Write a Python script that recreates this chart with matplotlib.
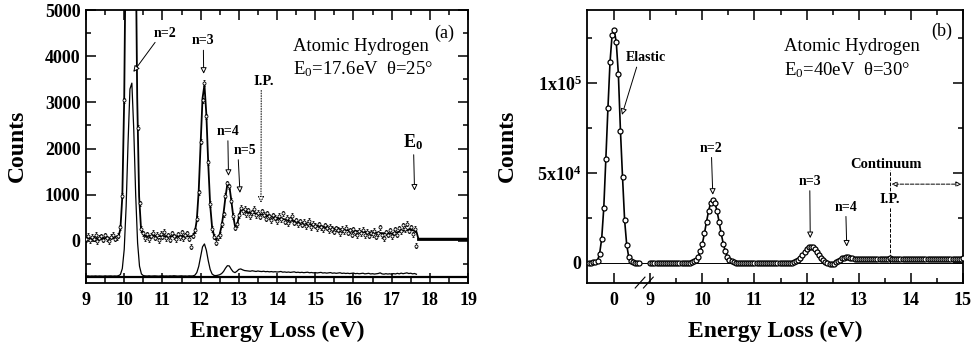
import numpy as np
import matplotlib
matplotlib.use("Agg")
import matplotlib.pyplot as plt
from matplotlib.ticker import MultipleLocator, FixedLocator

plt.rcParams['font.family'] = ['Liberation Serif', 'DejaVu Serif']
plt.rcParams['mathtext.fontset'] = 'custom'
plt.rcParams['mathtext.rm'] = 'Liberation Serif'
plt.rcParams['mathtext.it'] = 'Liberation Serif:italic'
plt.rcParams['mathtext.bf'] = 'Liberation Serif:bold'

# ---------------- panel (a): E0 = 17.6 eV ----------------
# measured counts (x5 trace), 0.05 eV steps from 9.00 eV
a_step = 0.05
a_counts = [
    40, 110, 20, 90, 50, 130, -10, 70, 100, 30,
    120, 60, 0, 90, 140, 50, 80, 110, 300, 980,
    3050, 7400, 13300, 17500, 17000, 12100, 6300, 2450, 820, 260,
    170, 60, 150, 40, 110, 180, 70, 130, 20, 160,
    90, 200, 60, 120, 30, 170, 100, 40, 150, 80,
    190, 60, 120, 170, 50, -120, 110, 230, 480, 1050,
    2150, 3050, 3420, 2700, 1700, 800, 260, 90, -40, 80,
    130, 360, 580, 980, 1250, 1180, 870, 540, 290, 360,
    560, 720, 640, 700, 580, 660, 540, 620, 700, 560,
    610, 520, 640, 570, 480, 600, 530, 450, 560, 500,
    430, 540, 470, 600, 420, 500, 380, 470, 540, 400,
    450, 360, 430, 350, 410, 320, 390, 440, 300, 370,
    330, 280, 360, 300, 250, 340, 290, 230, 310, 260,
    200, 280, 240, 170, 260, 210, 290, 180, 230, 140,
    250, 190, 120, 220, 170, 240, 130, 200, 110, 180,
    150, 220, 90, 170, 300, 120, 60, 190, 140, 230,
    100, 180, 250, 140, 280, 210, 340, 260, 370, 220,
    300, 150, 260, -100,
]
a_err = 55

# fitted curve through the x5 trace
a_fit_x = [9.00, 9.80, 9.85, 9.90, 9.95, 10.00, 10.05, 10.10, 10.17, 10.24,
           10.29, 10.34, 10.39, 10.44, 10.49, 10.55, 11.75, 11.80, 11.85, 11.90,
           11.95, 12.00, 12.05, 12.10, 12.15, 12.20, 12.25, 12.30, 12.35, 12.40,
           12.45, 12.50, 12.55, 12.60, 12.65, 12.70, 12.75, 12.80, 12.85, 12.90,
           12.95, 13.00, 13.05, 13.10, 13.20, 13.50, 14.00, 14.50, 15.00, 15.50,
           16.00, 16.50, 17.00, 17.30, 17.50, 17.65, 17.70, 19.00]
a_fit_y = [60, 60, 92, 260, 960, 3090, 7400, 13300, 18000, 13300,
           7400, 3090, 960, 260, 150, 110, 100, 118, 194, 456,
           1083, 2102, 3089, 3380, 2741, 1664, 780, 300, 120, 30,
           60, 150, 330, 600, 950, 1230, 1200, 900, 560, 320,
           330, 520, 670, 660, 630, 590, 500, 420, 340, 270,
           220, 180, 160, 220, 250, 200, 50, 50]

# unscaled trace, shown with an offset below
a_low_base = -770
a_low = [
    -760, -755, -762, -758, -760, -756, -761, -757, -759, -762,
    -755, -760, -758, -756, -761, -757, -760, -752, -726, -597,
    -182, 747, 2125, 3289, 3417, 2403, 999, -41, -546, -713,
    -750, -756, -759, -754, -760, -757, -755, -758, -761, -756,
    -753, -759, -757, -760, -755, -758, -752, -757, -760, -756,
    -754, -759, -757, -761, -755, -758, -756, -740, -684, -551,
    -335, -126, -64, -200, -428, -616, -714, -745, -750, -742,
    -730, -705, -660, -590, -535, -540, -610, -665, -685, -655,
    -615, -605, -625, -640, -645, -648, -655, -645, -652, -660,
    -650, -658, -662, -655, -665, -660, -668, -662, -670, -665,
    -672, -668, -660, -675, -670, -678, -672, -680, -674, -668,
    -682, -676, -684, -678, -686, -680, -676, -688, -682, -690,
    -684, -692, -686, -680, -694, -688, -696, -690, -684, -698,
    -692, -700, -694, -688, -702, -696, -704, -698, -706, -700,
    -694, -708, -702, -710, -704, -698, -712, -706, -700, -714,
    -708, -716, -710, -704, -690, -712, -718, -708, -716, -710,
    -720, -706, -714, -700, -712, -696, -708, -700, -690, -705,
    -698, -712, -704, -720,
]

# ---------------- panel (b): E0 = 40 eV ----------------
b_el_start, b_step = -0.48, 0.04
b_elastic = [0, 0, 200, 400, 1200, 5000, 13300, 30400, 57800, 85900,
             111500, 126700, 129500, 122500, 105000, 73500, 47600, 23700, 10000, 3000,
             1100, 400, 100, 0, 0]
b_in_start = 9.0
b_inelastic = [
    100, 0, -100, 50, 0, 100, -50, 0, 50, -100,
    0, 100, 0, -50, 50, 0, 100, 0, 40, 115,
    310, 760, 1700, 3400, 6400, 10700, 16400, 22900, 28900, 33400,
    35000, 33400, 28900, 22900, 16400, 10700, 6400, 3400, 1700, 760,
    310, 115, 40, 0, 50, -50, 0, 100, 0, -100,
    50, 0, -50, 0, 100, 50, -50, 0, 0, 100,
    -50, 0, 50, -100, 0, 50, 0, -50, -100, 300,
    880, 1640, 2750, 4220, 5880, 7440, 8590, 9000, 8590, 7440,
    5880, 4200, 2600, 1300, 400, -300, -850, -900, -500, 200,
    900, 1700, 2400, 2900, 3200, 3000, 2700, 2450, 2300, 2250,
    2200, 2300, 2150, 2250, 2350, 2200, 2100, 2300, 2250, 2150,
    2350, 2200, 2250, 2100, 2300, 2400, 2200, 2150, 2300, 2250,
    2100, 2200, 2350, 2250, 2150, 2300, 2200, 2100, 2250, 2350,
    2200, 2150, 2300, 2200, 2100, 2250, 2300, 2150, 2200, 2050,
    2250, 2200, 2100, 2300, 2150, 2200, 2250, 2100, 2200, 2300,
    2500,
]

a_x = 9.0 + a_step * np.arange(len(a_counts))
el_x = b_el_start + b_step * np.arange(len(b_elastic))
in_x = b_in_start + b_step * np.arange(len(b_inelastic))

LABELFONT = dict(fontsize=17, fontweight='bold')
ARROW = dict(arrowstyle='-|>', fc='white', ec='black', lw=0.7, mutation_scale=9,
             shrinkA=0, shrinkB=0)


def style_axes(ax):
    for sp in ax.spines.values():
        sp.set_linewidth(1.3)
    ax.tick_params(which='both', direction='in', top=True, right=True, width=1.1)
    ax.tick_params(which='major', length=7.5)
    ax.tick_params(which='minor', length=3.8)
    ax.tick_params(axis='x', which='both', pad=7)
    ax.tick_params(axis='y', which='both', pad=4)
    for lab in ax.get_xticklabels() + ax.get_yticklabels():
        lab.set_fontsize(13)
        lab.set_fontweight('bold')


fig = plt.figure(figsize=(9.72, 3.51), dpi=100)
axa = fig.add_axes([0.0885, 0.195, 0.393, 0.7765])
axb = fig.add_axes([0.604, 0.195, 0.3867, 0.7765])

# ---- (a)
axa.axhline(a_low_base, color='black', lw=1.6, zorder=1)
axa.plot(a_x, a_low, color='black', lw=0.9, zorder=2)
axa.plot(a_fit_x, a_fit_y, color='black', lw=1.3, zorder=3)
axa.plot([17.7, 19.0], [50, 50], color='black', lw=2.0, zorder=3)
axa.errorbar(a_x, a_counts, yerr=a_err, fmt='o', ms=2.2, mfc='white', mec='black',
             mew=0.6, ecolor='black', elinewidth=0.5, capsize=1.0, zorder=4)
axa.set_xlim(9, 19)
axa.set_ylim(-900, 5000)
axa.xaxis.set_major_locator(MultipleLocator(1))
axa.xaxis.set_minor_locator(MultipleLocator(0.5))
axa.yaxis.set_minor_locator(MultipleLocator(500))
axa.set_yticks([0, 1000, 2000, 3000, 4000, 5000])
style_axes(axa)
axa.set_xlabel('Energy Loss (eV)', **LABELFONT)
axa.set_ylabel('Counts', **LABELFONT)
axa.yaxis.set_label_coords(-0.152, 0.5)
axa.xaxis.set_label_coords(0.5, -0.14)

axa.text(18.37, 4500, '(a)', fontsize=13, ha='center', va='center')
axa.text(14.41, 4220, 'Atomic Hydrogen', fontsize=13.5, ha='left', va='center')
axa.text(14.41, 3730, 'E$_\\mathregular{0}$=17.6eV  \u03b8=25\u00b0', fontsize=13.5,
         ha='left', va='center')
axa.annotate('n=2', xy=(10.24, 3660), xytext=(11.07, 4500), fontsize=10, fontweight='bold',
             ha='center', va='center',
             arrowprops=dict(ARROW, relpos=(0.15, 0.0)))
axa.annotate('n=3', xy=(12.08, 3620), xytext=(12.07, 4330), fontsize=10, fontweight='bold',
             ha='center', va='center', arrowprops=dict(ARROW))
axa.annotate('n=4', xy=(12.73, 1410), xytext=(12.71, 2370), fontsize=10, fontweight='bold',
             ha='center', va='center', arrowprops=dict(ARROW))
axa.annotate('n=5', xy=(13.03, 1040), xytext=(13.16, 1960), fontsize=10, fontweight='bold',
             ha='center', va='center', arrowprops=dict(ARROW, relpos=(0.2, 0.0)))
axa.annotate('I.P.', xy=(13.58, 830), xytext=(13.64, 3460), fontsize=10.5, fontweight='bold',
             ha='center', va='center', arrowprops=dict(ARROW, ls=':', relpos=(0.4, 0.0)))
axa.annotate('E$_\\mathbf{0}$', xy=(17.6, 1090), xytext=(17.57, 2140), fontsize=13,
             fontweight='bold', ha='center', va='center', arrowprops=dict(ARROW))

# ---- (b): broken energy axis between the elastic peak and 9 eV
def fwd(x):
    return np.interp(x, [-10, 0.6, 9, 30], [-10, 0.6, 0.692, 21.692])


def inv(u):
    return np.interp(u, [-10, 0.6, 0.692, 21.692], [-10, 0.6, 9, 30])


axb.set_xscale('function', functions=(fwd, inv))
axb.axhline(0, color='black', lw=0.7, zorder=1)
axb.plot(el_x, b_elastic, '-o', color='black', lw=1.2, ms=3.6, mfc='white', mec='black',
         mew=0.9, zorder=3)
axb.plot(in_x, b_inelastic, '-o', color='black', lw=1.2, ms=3.6, mfc='white', mec='black',
         mew=0.9, zorder=3)
axb.set_xlim(-0.52, 15.0)
axb.set_ylim(-11000, 140500)
axb.xaxis.set_major_locator(FixedLocator([0, 9, 10, 11, 12, 13, 14, 15]))
axb.xaxis.set_minor_locator(FixedLocator([9.5, 10.5, 11.5, 12.5, 13.5, 14.5]))
axb.yaxis.set_major_locator(FixedLocator([0, 50000, 100000]))
axb.yaxis.set_minor_locator(FixedLocator([25000, 75000, 125000]))
axb.set_xticklabels(['0', '9', '10', '11', '12', '13', '14', '15'])
axb.set_yticklabels(['0', '$\\mathbf{5x10^4}$', '$\\mathbf{1x10^5}$'])
style_axes(axb)
axb.set_xlabel('Energy Loss (eV)', **LABELFONT)
axb.set_ylabel('Counts', **LABELFONT)
axb.yaxis.set_label_coords(-0.183, 0.5)
axb.xaxis.set_label_coords(0.5, -0.14)

for xc in (0.141, 0.163):
    axb.plot([xc - 0.013, xc + 0.013], [-0.02, 0.02], transform=axb.transAxes,
             color='black', lw=0.8, clip_on=False, zorder=5)

axb.text(14.6, 128500, '(b)', fontsize=13, ha='center', va='center')
axb.text(11.56, 120200, 'Atomic Hydrogen', fontsize=13.5, ha='left', va='center')
axb.text(11.56, 107200, 'E$_\\mathregular{0}$=40eV  \u03b8=30\u00b0', fontsize=13.5,
         ha='left', va='center')
axb.annotate('Elastic', xy=(0.15, 82200), xytext=(0.71, 113900), fontsize=10,
             fontweight='bold', ha='center', va='center',
             arrowprops=dict(ARROW, relpos=(0.3, 0.0)))
axb.annotate('n=2', xy=(10.2, 37800), xytext=(10.17, 63700), fontsize=10, fontweight='bold',
             ha='center', va='center', arrowprops=dict(ARROW))
axb.annotate('n=3', xy=(12.07, 13700), xytext=(12.06, 45200), fontsize=10, fontweight='bold',
             ha='center', va='center', arrowprops=dict(ARROW))
axb.annotate('n=4', xy=(12.77, 9000), xytext=(12.75, 30900), fontsize=10, fontweight='bold',
             ha='center', va='center', arrowprops=dict(ARROW))
axb.text(13.52, 54800, 'Continuum', fontsize=10.5, fontweight='bold', ha='center',
         va='center')
axb.plot([13.6, 13.6], [0, 51700], color='black', lw=0.7, ls='--', zorder=2)
axb.text(13.6, 35000, 'I.P.', fontsize=10.5, fontweight='bold', ha='center', va='center',
         bbox=dict(fc='white', ec='none', pad=0.5), zorder=4)
axb.annotate('', xy=(13.63, 43700), xytext=(14.97, 43700),
             arrowprops=dict(arrowstyle='<|-|>', fc='white', ec='black', lw=0.7,
                             ls='--', mutation_scale=8, shrinkA=0, shrinkB=0))

fig.savefig('out.png', dpi=100)
